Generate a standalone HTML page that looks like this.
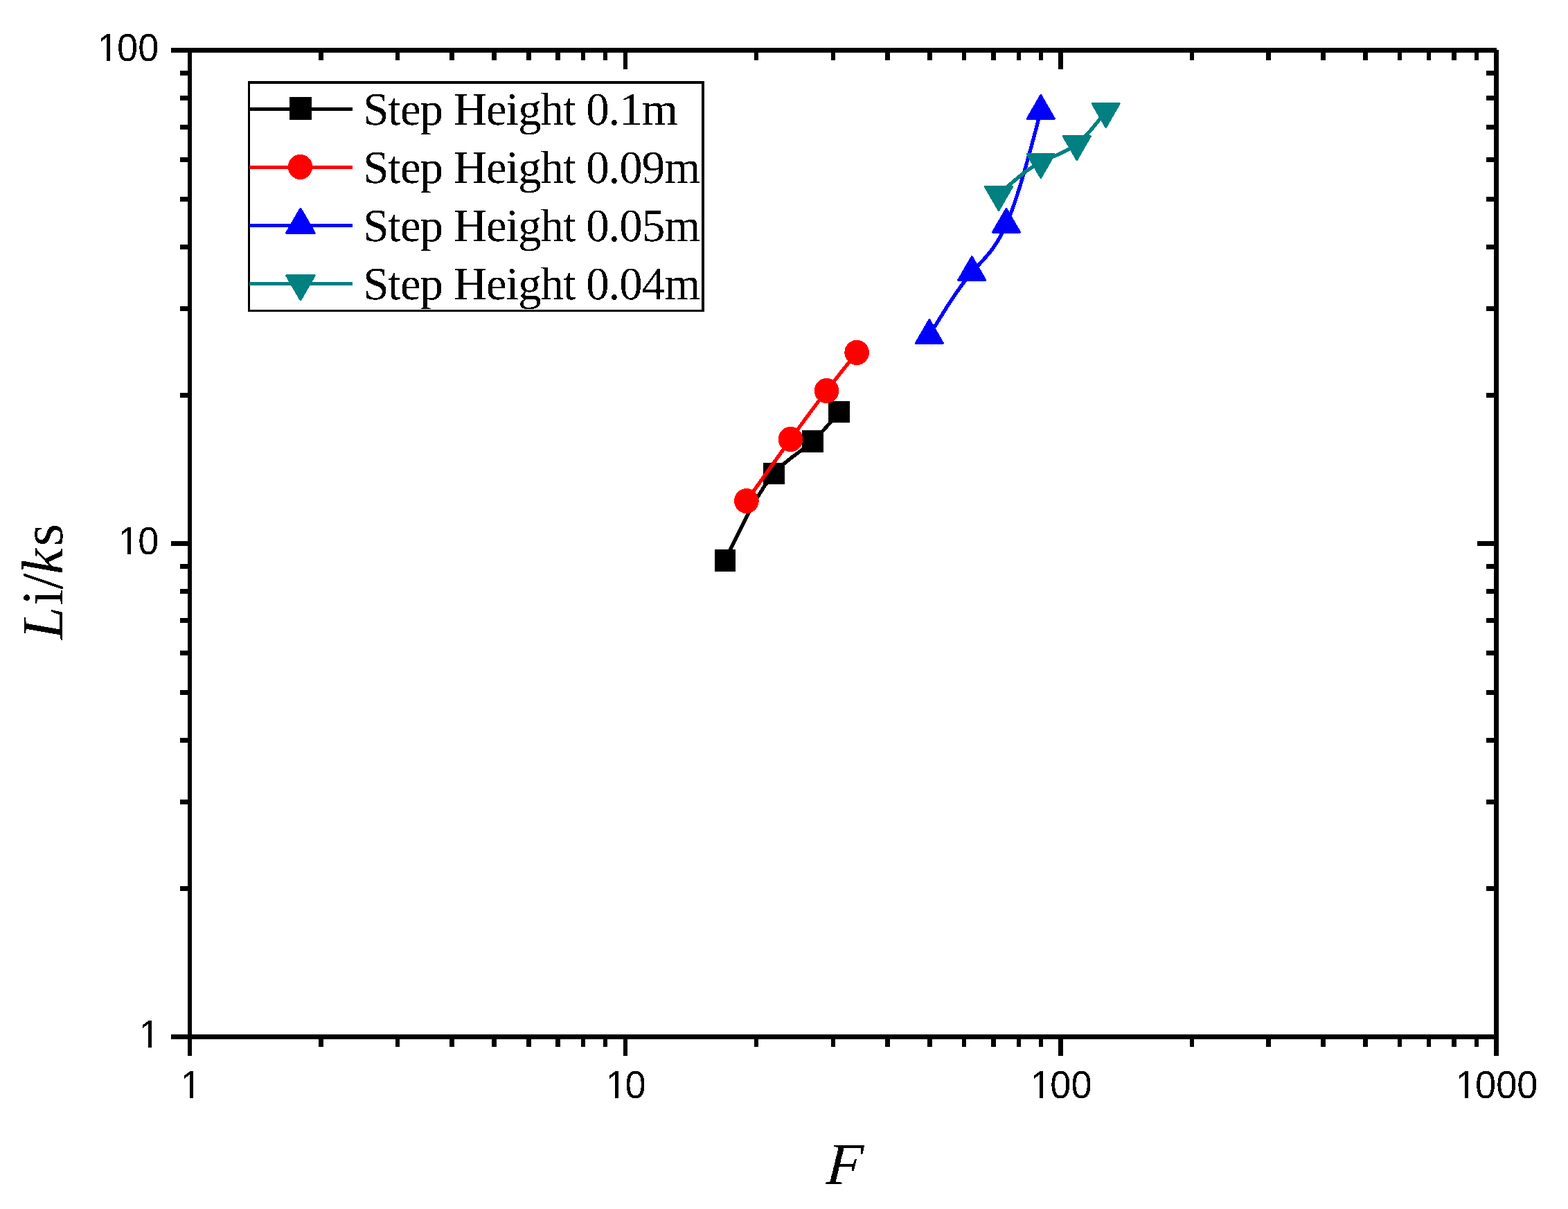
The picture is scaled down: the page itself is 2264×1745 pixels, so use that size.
<!DOCTYPE html>
<html lang="en"><head><meta charset="utf-8">
<style>html,body{margin:0;padding:0;background:#fff;}body{width:2264px;height:1745px;}svg{display:block;}.tk{font-family:"Liberation Sans",sans-serif;font-size:54.17px;fill:#000;text-rendering:geometricPrecision;}.lg{font-family:"Liberation Serif",serif;font-size:67px;fill:#000;letter-spacing:-1.08px;text-rendering:geometricPrecision;}.tt{font-family:"Liberation Serif",serif;font-size:84.5px;fill:#000;text-rendering:geometricPrecision;}.it{font-style:italic;}</style></head><body>
<svg width="2264" height="1745" viewBox="0 0 2264 1745">
<rect x="0" y="0" width="2264" height="1745" fill="#fff"/>
<defs><filter id="bw" filterUnits="userSpaceOnUse" x="0" y="0" width="2264" height="1745" color-interpolation-filters="sRGB"><feComponentTransfer><feFuncA type="discrete" tableValues="0 1"/></feComponentTransfer></filter></defs>
<g shape-rendering="crispEdges">
<rect x="247" y="69" width="1914" height="7" fill="#000"/>
<rect x="247" y="1493" width="1917" height="7" fill="#000"/>
<rect x="271" y="69" width="6" height="1455" fill="#000"/>
<rect x="2157" y="72" width="7" height="1452" fill="#000"/>
<rect x="460" y="1500" width="7" height="11" fill="#000"/>
<rect x="460" y="76" width="7" height="11" fill="#000"/>
<rect x="571" y="1500" width="6" height="11" fill="#000"/>
<rect x="571" y="76" width="6" height="11" fill="#000"/>
<rect x="649" y="1500" width="7" height="11" fill="#000"/>
<rect x="649" y="76" width="7" height="11" fill="#000"/>
<rect x="710" y="1500" width="7" height="11" fill="#000"/>
<rect x="710" y="76" width="7" height="11" fill="#000"/>
<rect x="760" y="1500" width="7" height="11" fill="#000"/>
<rect x="760" y="76" width="7" height="11" fill="#000"/>
<rect x="802" y="1500" width="7" height="11" fill="#000"/>
<rect x="802" y="76" width="7" height="11" fill="#000"/>
<rect x="839" y="1500" width="6" height="11" fill="#000"/>
<rect x="839" y="76" width="6" height="11" fill="#000"/>
<rect x="871" y="1500" width="6" height="11" fill="#000"/>
<rect x="871" y="76" width="6" height="11" fill="#000"/>
<rect x="900" y="1500" width="6" height="24" fill="#000"/>
<rect x="900" y="76" width="6" height="24" fill="#000"/>
<rect x="1089" y="1500" width="6" height="11" fill="#000"/>
<rect x="1089" y="76" width="6" height="11" fill="#000"/>
<rect x="1200" y="1500" width="6" height="11" fill="#000"/>
<rect x="1200" y="76" width="6" height="11" fill="#000"/>
<rect x="1278" y="1500" width="7" height="11" fill="#000"/>
<rect x="1278" y="76" width="7" height="11" fill="#000"/>
<rect x="1339" y="1500" width="7" height="11" fill="#000"/>
<rect x="1339" y="76" width="7" height="11" fill="#000"/>
<rect x="1389" y="1500" width="6" height="11" fill="#000"/>
<rect x="1389" y="76" width="6" height="11" fill="#000"/>
<rect x="1431" y="1500" width="7" height="11" fill="#000"/>
<rect x="1431" y="76" width="7" height="11" fill="#000"/>
<rect x="1468" y="1500" width="6" height="11" fill="#000"/>
<rect x="1468" y="76" width="6" height="11" fill="#000"/>
<rect x="1500" y="1500" width="6" height="11" fill="#000"/>
<rect x="1500" y="76" width="6" height="11" fill="#000"/>
<rect x="1528" y="1500" width="7" height="24" fill="#000"/>
<rect x="1528" y="76" width="7" height="24" fill="#000"/>
<rect x="1718" y="1500" width="6" height="11" fill="#000"/>
<rect x="1718" y="76" width="6" height="11" fill="#000"/>
<rect x="1828" y="1500" width="7" height="11" fill="#000"/>
<rect x="1828" y="76" width="7" height="11" fill="#000"/>
<rect x="1907" y="1500" width="7" height="11" fill="#000"/>
<rect x="1907" y="76" width="7" height="11" fill="#000"/>
<rect x="1968" y="1500" width="7" height="11" fill="#000"/>
<rect x="1968" y="76" width="7" height="11" fill="#000"/>
<rect x="2018" y="1500" width="6" height="11" fill="#000"/>
<rect x="2018" y="76" width="6" height="11" fill="#000"/>
<rect x="2060" y="1500" width="6" height="11" fill="#000"/>
<rect x="2060" y="76" width="6" height="11" fill="#000"/>
<rect x="2096" y="1500" width="7" height="11" fill="#000"/>
<rect x="2096" y="76" width="7" height="11" fill="#000"/>
<rect x="2129" y="1500" width="6" height="11" fill="#000"/>
<rect x="2129" y="76" width="6" height="11" fill="#000"/>
<rect x="260" y="1279" width="11" height="7" fill="#000"/>
<rect x="2146" y="1279" width="11" height="7" fill="#000"/>
<rect x="260" y="1154" width="11" height="7" fill="#000"/>
<rect x="2146" y="1154" width="11" height="7" fill="#000"/>
<rect x="260" y="1065" width="11" height="7" fill="#000"/>
<rect x="2146" y="1065" width="11" height="7" fill="#000"/>
<rect x="260" y="996" width="11" height="7" fill="#000"/>
<rect x="2146" y="996" width="11" height="7" fill="#000"/>
<rect x="260" y="939" width="11" height="7" fill="#000"/>
<rect x="2146" y="939" width="11" height="7" fill="#000"/>
<rect x="260" y="892" width="11" height="7" fill="#000"/>
<rect x="2146" y="892" width="11" height="7" fill="#000"/>
<rect x="260" y="850" width="11" height="7" fill="#000"/>
<rect x="2146" y="850" width="11" height="7" fill="#000"/>
<rect x="260" y="814" width="11" height="7" fill="#000"/>
<rect x="2146" y="814" width="11" height="7" fill="#000"/>
<rect x="247" y="781" width="24" height="7" fill="#000"/>
<rect x="2133" y="781" width="24" height="7" fill="#000"/>
<rect x="260" y="567" width="11" height="7" fill="#000"/>
<rect x="2146" y="567" width="11" height="7" fill="#000"/>
<rect x="260" y="442" width="11" height="7" fill="#000"/>
<rect x="2146" y="442" width="11" height="7" fill="#000"/>
<rect x="260" y="353" width="11" height="7" fill="#000"/>
<rect x="2146" y="353" width="11" height="7" fill="#000"/>
<rect x="260" y="284" width="11" height="7" fill="#000"/>
<rect x="2146" y="284" width="11" height="7" fill="#000"/>
<rect x="260" y="227" width="11" height="7" fill="#000"/>
<rect x="2146" y="227" width="11" height="7" fill="#000"/>
<rect x="260" y="180" width="11" height="7" fill="#000"/>
<rect x="2146" y="180" width="11" height="7" fill="#000"/>
<rect x="260" y="138" width="11" height="7" fill="#000"/>
<rect x="2146" y="138" width="11" height="7" fill="#000"/>
<rect x="260" y="102" width="11" height="7" fill="#000"/>
<rect x="2146" y="102" width="11" height="7" fill="#000"/>
</g>
<path d="M1047.00,809.00 C1070.50,759.91 1094.00,710.81 1117.50,683.50 C1136.17,661.80 1154.83,653.85 1173.50,637.00 C1186.17,625.56 1198.83,610.03 1211.50,594.50" fill="none" stroke="#000000" stroke-width="5.3" stroke-linejoin="round" stroke-linecap="butt" shape-rendering="crispEdges"/>
<rect x="1032" y="793" width="30" height="32" fill="#000000" shape-rendering="crispEdges"/>
<rect x="1102" y="668" width="31" height="31" fill="#000000" shape-rendering="crispEdges"/>
<rect x="1158" y="621" width="31" height="32" fill="#000000" shape-rendering="crispEdges"/>
<rect x="1196" y="579" width="31" height="31" fill="#000000" shape-rendering="crispEdges"/>
<path d="M1077.90,723.05 C1099.10,693.17 1120.30,663.29 1141.50,634.00 C1158.83,610.05 1176.17,586.50 1193.50,564.00 C1208.03,545.14 1222.57,527.02 1237.10,508.90" fill="none" stroke="#ff0000" stroke-width="5.3" stroke-linejoin="round" stroke-linecap="butt" shape-rendering="crispEdges"/>
<ellipse cx="1077.9" cy="723.05" rx="17.8" ry="18.1" fill="#ff0000" shape-rendering="crispEdges"/>
<ellipse cx="1141.5" cy="634" rx="17.8" ry="18.1" fill="#ff0000" shape-rendering="crispEdges"/>
<ellipse cx="1193.5" cy="564" rx="17.8" ry="18.1" fill="#ff0000" shape-rendering="crispEdges"/>
<ellipse cx="1237.1" cy="508.9" rx="17.8" ry="18.1" fill="#ff0000" shape-rendering="crispEdges"/>
<path d="M1341.90,484.15 C1362.37,450.40 1382.83,416.65 1403.30,393.10 C1419.87,374.04 1436.43,361.66 1453.00,324.00 C1469.60,286.27 1486.20,223.16 1502.80,160.05" fill="none" stroke="#0000ff" stroke-width="5.3" stroke-linejoin="round" stroke-linecap="butt" shape-rendering="crispEdges"/>
<polygon points="1341.90,461.55 1361.47,495.45 1322.33,495.45" fill="#0000ff" stroke="#0000ff" stroke-width="3" stroke-linejoin="round" shape-rendering="crispEdges"/>
<polygon points="1403.30,370.50 1422.87,404.40 1383.73,404.40" fill="#0000ff" stroke="#0000ff" stroke-width="3" stroke-linejoin="round" shape-rendering="crispEdges"/>
<polygon points="1453.00,301.40 1472.57,335.30 1433.43,335.30" fill="#0000ff" stroke="#0000ff" stroke-width="3" stroke-linejoin="round" shape-rendering="crispEdges"/>
<polygon points="1502.80,137.45 1522.37,171.35 1483.23,171.35" fill="#0000ff" stroke="#0000ff" stroke-width="3" stroke-linejoin="round" shape-rendering="crispEdges"/>
<path d="M1442.00,280.85 C1462.27,262.55 1482.53,244.24 1502.80,233.80 C1520.13,224.87 1537.47,221.69 1554.80,207.90 C1568.77,196.79 1582.73,178.80 1596.70,160.80" fill="none" stroke="#008080" stroke-width="5.3" stroke-linejoin="round" stroke-linecap="butt" shape-rendering="crispEdges"/>
<polygon points="1442.00,303.45 1461.57,269.55 1422.43,269.55" fill="#008080" stroke="#008080" stroke-width="3" stroke-linejoin="round" shape-rendering="crispEdges"/>
<polygon points="1502.80,256.40 1522.37,222.50 1483.23,222.50" fill="#008080" stroke="#008080" stroke-width="3" stroke-linejoin="round" shape-rendering="crispEdges"/>
<polygon points="1554.80,230.50 1574.37,196.60 1535.23,196.60" fill="#008080" stroke="#008080" stroke-width="3" stroke-linejoin="round" shape-rendering="crispEdges"/>
<polygon points="1596.70,183.40 1616.27,149.50 1577.13,149.50" fill="#008080" stroke="#008080" stroke-width="3" stroke-linejoin="round" shape-rendering="crispEdges"/>
<g shape-rendering="crispEdges">
<rect x="358" y="117" width="659" height="333" fill="#fff"/>
<rect x="358" y="117" width="659" height="4" fill="#000"/>
<rect x="358" y="447" width="659" height="3" fill="#000"/>
<rect x="358" y="117" width="3" height="333" fill="#000"/>
<rect x="1013" y="117" width="4" height="333" fill="#000"/>
<rect x="360" y="155" width="149" height="5" fill="#000000"/>
<rect x="360" y="239" width="149" height="5" fill="#ff0000"/>
<rect x="360" y="323" width="149" height="5" fill="#0000ff"/>
<rect x="360" y="407" width="149" height="5" fill="#008080"/>
</g>
<rect x="418" y="140" width="32" height="33" fill="#000000" shape-rendering="crispEdges"/>
<ellipse cx="433.5" cy="240.9" rx="17.7" ry="18.15" fill="#ff0000" shape-rendering="crispEdges"/>
<polygon points="433.95,301.55 453.87,336.05 414.03,336.05" fill="#0000ff" stroke="#0000ff" stroke-width="3.5" stroke-linejoin="round" shape-rendering="crispEdges"/>
<polygon points="433.95,432.30 453.87,397.80 414.03,397.80" fill="#008080" stroke="#008080" stroke-width="3.5" stroke-linejoin="round" shape-rendering="crispEdges"/>
<g filter="url(#bw)">
<text class="tk" x="1.84" y="0" transform="translate(258.64,1584.55) scale(1,1.04)">1</text>
<text class="tk" x="2.07 30.13" y="0" transform="translate(872.41,1584.55) scale(1,1.04)">10</text>
<text class="tk" x="1.30 30.13 60.25" y="0" transform="translate(1486.18,1584.55) scale(1,1.04)">100</text>
<text class="tk" x="1.53 30.13 60.25 90.38" y="0" transform="translate(2099.95,1584.55) scale(1,1.04)">1000</text>
<text class="tk" x="1.30" y="0" transform="translate(199.17,1511.7) scale(1,1.04)">1</text>
<text class="tk" x="1.43 30.13" y="0" transform="translate(169.05,799.7) scale(1,1.04)">10</text>
<text class="tk" x="1.56 30.13 60.25" y="0" transform="translate(138.92,87.7) scale(1,1.04)">100</text>
<text class="lg" x="524.2" y="180.1">Step Height 0.1m</text>
<text class="lg" x="524.2" y="264.1">Step Height 0.09m</text>
<text class="lg" x="524.2" y="348">Step Height 0.05m</text>
<text class="lg" x="524.2" y="432">Step Height 0.04m</text>
<text class="tt it" style="font-size:85.5px" transform="translate(1191.6,1709) skewX(-4)">F</text>
<text class="tt" x="1 50.2 73.3 95 135.5" y="0" transform="translate(89.9,924.1) rotate(-90)"><tspan class="it">L</tspan>i/<tspan class="it">k</tspan>s</text>
</g>
<g shape-rendering="crispEdges">
<rect x="262" y="1579" width="12" height="8" fill="#fff"/>
<rect x="279" y="1579" width="11" height="8" fill="#fff"/>
<rect x="876" y="1579" width="12" height="8" fill="#fff"/>
<rect x="893" y="1579" width="11" height="8" fill="#fff"/>
<rect x="1489" y="1579" width="12" height="8" fill="#fff"/>
<rect x="1506" y="1579" width="11" height="8" fill="#fff"/>
<rect x="2103" y="1579" width="12" height="8" fill="#fff"/>
<rect x="2120" y="1579" width="11" height="8" fill="#fff"/>
<rect x="202" y="1506" width="12" height="8" fill="#fff"/>
<rect x="219" y="1506" width="11" height="8" fill="#fff"/>
<rect x="172" y="794" width="12" height="8" fill="#fff"/>
<rect x="189" y="794" width="11" height="8" fill="#fff"/>
<rect x="142" y="82" width="12" height="8" fill="#fff"/>
<rect x="159" y="82" width="11" height="8" fill="#fff"/>
</g>
</svg></body></html>
